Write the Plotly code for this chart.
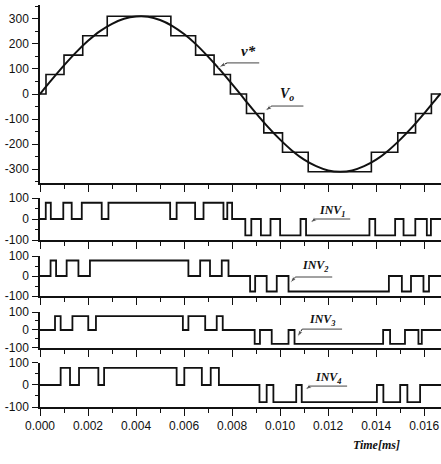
import plotly.graph_objects as go

# ---------------- data (time in ms, voltage in V) ----------------
sine_t = [0, 0.5, 1.0, 1.5, 2.0, 2.5, 3.0, 3.5, 4.0, 4.5, 5.0, 5.5, 6.0, 6.5, 7.0, 7.5,
          8.0, 8.5, 9.0, 9.5, 10.0, 10.5, 11.0, 11.5, 12.0, 12.5, 13.0, 13.5, 14.0,
          14.5, 15.0, 15.5, 16.0, 16.5, 16.67]
sine_v = [0, 58, 114, 166, 212, 251, 280, 300, 309, 308, 295, 272, 239, 198, 149, 96,
          39, -19, -77, -132, -182, -226, -262, -288, -305, -310, -305, -288, -262,
          -226, -182, -132, -77, -19, 0]

stair_t = [0, 0.25, 1.0, 1.78, 2.8, 5.45, 6.48, 7.25, 7.93, 8.6, 9.32, 10.1, 11.17,
           13.8, 14.9, 15.64, 16.3, 16.7]
stair_v = [0, 77.5, 155, 232.5, 310, 232.5, 155, 77.5, 0, -77.5, -155, -232.5, -310,
           -232.5, -155, -77.5, 0, 0]

inv1_t = [0, 0.24, 0.45, 0.97, 1.32, 1.74, 2.57, 2.85, 5.42, 5.69, 6.46, 6.81, 7.64,
          7.80, 8.00, 8.55, 8.80, 9.20, 9.60, 10.00, 10.85, 11.08, 13.72, 13.96, 14.79,
          15.14, 15.63, 16.11, 16.28, 16.70]
inv1_v = [0, 77.5, 0, 77.5, 0, 77.5, 0, 77.5, 0, 77.5, 0, 77.5, 0, 77.5, 0,
          -77.5, 0, -77.5, 0, -77.5, 0, -77.5, 0, -77.5, 0, -77.5, 0, -77.5, 0, 0]

inv2_t = [0, 0.44, 0.67, 1.11, 1.60, 2.08, 6.18, 6.67, 7.08, 7.57, 7.85, 8.75, 8.96,
          9.44, 9.86, 10.35, 14.53, 15.07, 15.45, 15.97, 16.20, 16.70]
inv2_v = [0, 77.5, 0, 77.5, 0, 77.5, 0, 77.5, 0, 77.5, 0,
          -77.5, 0, -77.5, 0, -77.5, 0, -77.5, 0, -77.5, 0, 0]

inv3_t = [0, 0.625, 0.86, 1.35, 2.01, 2.33, 5.95, 6.18, 6.88, 7.36, 7.61, 8.94, 9.16,
          9.65, 10.35, 10.60, 14.29, 14.58, 15.20, 15.76, 15.90, 16.70]
inv3_v = [0, 77.5, 0, 77.5, 0, 77.5, 0, 77.5, 0, 77.5, 0,
          -77.5, 0, -77.5, 0, -77.5, 0, -77.5, 0, -77.5, 0, 0]

inv4_t = [0, 0.86, 1.25, 1.625, 2.43, 2.67, 5.69, 6.01, 6.74, 7.11, 7.45, 9.14, 9.44,
          9.72, 10.67, 10.90, 14.03, 14.30, 15.00, 15.30, 15.83, 16.70]
inv4_v = [0, 77.5, 0, 77.5, 0, 77.5, 0, 77.5, 0, 77.5, 0,
          -77.5, 0, -77.5, 0, -77.5, 0, -77.5, 0, -77.5, 0, 0]

x_tickvals = [0.000, 0.002, 0.004, 0.006, 0.008, 0.010, 0.012, 0.014, 0.016]
x_ticktext = ["0.000", "0.002", "0.004", "0.006", "0.008", "0.010", "0.012", "0.014", "0.016"]
top_tickvals = [-300, -200, -100, 0, 100, 200, 300]
top_ticktext = ["-300", "-200", "-100", "0", "100", "200", "300"]
inv_tickvals = [-100, 0, 100]
inv_ticktext = ["-100", "0", "100"]

inv_names = ["INV<sub>1</sub>", "INV<sub>2</sub>", "INV<sub>3</sub>", "INV<sub>4</sub>"]


def sec(ts):
    return [t / 1000.0 for t in ts]


BLACK = "#111111"
fig = go.Figure()

fig.add_trace(go.Scatter(x=sec(sine_t), y=sine_v, mode="lines", line=dict(color=BLACK, width=2, shape="spline"),
                         xaxis="x", yaxis="y", name="v*", showlegend=False))
fig.add_trace(go.Scatter(x=sec(stair_t), y=stair_v, mode="lines", line=dict(color=BLACK, width=1.6, shape="hv"),
                         xaxis="x", yaxis="y", name="Vo", showlegend=False))

for i, (ts, vs) in enumerate([(inv1_t, inv1_v), (inv2_t, inv2_v), (inv3_t, inv3_v), (inv4_t, inv4_v)]):
    k = i + 2
    fig.add_trace(go.Scatter(x=sec(ts), y=vs, mode="lines", line=dict(color=BLACK, width=1.8, shape="hv"),
                             xaxis=f"x{k}", yaxis=f"y{k}", showlegend=False))

# plot area: y px 5..407 (height 402)
domains = [
    [0.5572, 1.0],
    [0.4154, 0.5199],
    [0.2761, 0.3756],
    [0.1468, 0.2363],
    [0.0, 0.1095],
]

font_ax = dict(family="Liberation Sans, Arial", size=12, color=BLACK)
layout = dict(
    width=441, height=464,
    margin=dict(l=40, r=0, t=5, b=57),
    paper_bgcolor="white", plot_bgcolor="white",
    font=font_ax,
    showlegend=False,
)

for i in range(5):
    k = "" if i == 0 else str(i + 1)
    xa = dict(
        domain=[0, 1], anchor=f"y{k}", range=[0, 0.0167], automargin=False,
        showline=True, linecolor=BLACK, linewidth=1.5,
        showgrid=False, zeroline=False,
        ticks="outside", ticklen=7, tickwidth=1.3, tickcolor=BLACK,
        tickvals=x_tickvals, ticktext=x_ticktext,
        showticklabels=(i == 4),
        minor=dict(ticks="outside", ticklen=4, tickwidth=1.2, tickcolor=BLACK, dtick=0.001, tick0=0),
        tickfont=font_ax,
    )
    if i > 0:
        xa["matches"] = "x"
    if i == 0:
        ya = dict(domain=domains[i], anchor=f"x{k}", range=[-355, 355],
                  tickvals=top_tickvals, ticktext=top_ticktext,
                  minor=dict(ticks="outside", ticklen=3, tickwidth=1, tickcolor=BLACK, dtick=50, tick0=0))
    else:
        ya = dict(domain=domains[i], anchor=f"x{k}", range=[-100, 100],
                  tickvals=inv_tickvals, ticktext=inv_ticktext,
                  minor=dict(ticks="outside", ticklen=3, tickwidth=1, tickcolor=BLACK, dtick=50, tick0=0))
    ya.update(showline=True, linecolor=BLACK, linewidth=1.5, showgrid=False, zeroline=False, automargin=False,
              ticks="outside", ticklen=6, tickwidth=1.3, tickcolor=BLACK, tickfont=font_ax, ticklabelstandoff=1)
    layout[f"xaxis{k}"] = xa
    layout[f"yaxis{k}"] = ya

fig.update_layout(**layout)

serif = dict(family="Liberation Serif, Times New Roman", color=BLACK)
ann = []
shapes = []


def label(xr, yr, x, y, text, size, ulx0, ulx1, uly, tipx, tipy):
    ann.append(dict(x=x, y=y, xref=xr, yref=yr, text=f"<b><i>{text}</i></b>", showarrow=False,
                    font=dict(size=size, **serif), xanchor="center", yanchor="middle"))
    shapes.append(dict(type="line", xref=xr, yref=yr, x0=ulx0, x1=ulx1, y0=uly, y1=uly,
                       line=dict(color="#444444", width=1)))
    # leader with arrowhead, drawn as a small line trace ending in an arrow marker
    fig.add_trace(go.Scatter(x=[ulx0, tipx], y=[uly, tipy], mode="lines+markers",
                             xaxis=xr, yaxis=yr, showlegend=False, hoverinfo="skip",
                             line=dict(color=BLACK, width=1),
                             marker=dict(symbol="arrow", size=[0, 7], angleref="previous", color=BLACK)))


label("x", "y", 0.00867, 170, "v*", 15, 0.00779, 0.00913, 124, 0.00745, 106)
label("x", "y", 0.01028, -2, "V<sub>o</sub>", 14, 0.00965, 0.01097, -48, 0.00937, -68)
label("x2", "y2", 0.01217, 36, inv_names[0], 12, 0.01146, 0.01292, 0, 0.01125, -19)
label("x3", "y3", 0.01146, 52, inv_names[1], 12, 0.01063, 0.01217, -5, 0.01042, -35)
label("x4", "y4", 0.01175, 58, inv_names[2], 12, 0.01092, 0.01258, 5, 0.01071, -39)
label("x5", "y5", 0.0120, 30, inv_names[3], 12, 0.01125, 0.01279, -5, 0.01104, -23)

ann.append(dict(x=0.84, y=-0.0945, xref="paper", yref="paper", text="<b><i>Time[ms]</i></b>",
                showarrow=False, font=dict(size=12, **serif), xanchor="center", yanchor="middle"))

fig.update_layout(annotations=ann, shapes=shapes)
fig.write_html("out.html", config={"displayModeBar": False},
               post_script="document.body.style.margin='0px';document.body.style.overflow='hidden';")
